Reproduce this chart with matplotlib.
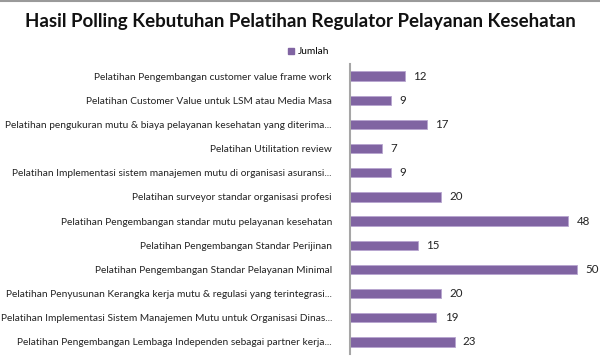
import matplotlib
matplotlib.use("Agg")
import matplotlib.pyplot as plt
from matplotlib.lines import Line2D

categories = [
    "Pelatihan Pengembangan customer value frame work",
    "Pelatihan Customer Value untuk LSM atau Media Masa",
    "Pelatihan pengukuran mutu & biaya pelayanan kesehatan yang diterima...",
    "Pelatihan Utilitation review",
    "Pelatihan Implementasi sistem manajemen mutu di organisasi asuransi...",
    "Pelatihan surveyor standar organisasi profesi",
    "Pelatihan Pengembangan standar mutu pelayanan kesehatan",
    "Pelatihan Pengembangan Standar Perijinan",
    "Pelatihan Pengembangan Standar Pelayanan Minimal",
    "Pelatihan Penyusunan Kerangka kerja mutu & regulasi yang terintegrasi...",
    "Pelatihan Implementasi Sistem Manajemen Mutu untuk Organisasi Dinas...",
    "Pelatihan Pengembangan Lembaga Independen sebagai partner kerja...",
]
values = [12, 9, 17, 7, 9, 20, 48, 15, 50, 20, 19, 23]
series_name = "Jumlah"
title = "Hasil Polling Kebutuhan Pelatihan Regulator Pelayanan Kesehatan"

plt.rcParams['font.family'] = ['Lato', 'DejaVu Sans']
W, H = 600, 362
fig = plt.figure(figsize=(6, 3.62), dpi=100)
ax = fig.add_axes([350 / W, 1 - 354 / H, 250 / W, (354 - 64) / H])

color = "#8064A2"
ypos = list(range(len(categories)))
ax.barh(ypos, values, height=0.38, color=color, edgecolor="#B7A5CF", linewidth=0.6,
        label=series_name)
ax.set_ylim(len(categories) - 0.5, -0.5)
ax.set_xlim(0, 55)
ax.set_yticks(ypos)
ax.set_yticklabels(categories, fontsize=7.3, color="#222222")
ax.tick_params(axis='y', length=0, pad=13)
ax.set_xticks([])
for s in ["top", "right", "bottom"]:
    ax.spines[s].set_visible(False)
ax.spines["left"].set_color("#A6A6A6")
ax.spines["left"].set_linewidth(1.5)

for y, v in zip(ypos, values):
    ax.text(v + 1.8, y, str(v), va="center", ha="left", fontsize=8.3, color="#222222")

fig.text(0.5, 1 - 22 / H, title, ha="center", va="center", fontsize=13.5,
         fontweight="bold", color="#111111")

fig.legend(handles=[plt.Rectangle((0, 0), 1, 1, color=color)], labels=[series_name],
           loc="center left", bbox_to_anchor=(288 / W, 1 - 52 / H), frameon=False,
           fontsize=7.3, handlelength=0.6, handleheight=0.6, handletextpad=0.4,
           borderaxespad=0, borderpad=0)

fig.add_artist(Line2D([0, 1], [1 - 0.8 / H, 1 - 0.8 / H], color="#9A9A9A", linewidth=1.5,
                      transform=fig.transFigure))

fig.savefig("out.png", dpi=100)
